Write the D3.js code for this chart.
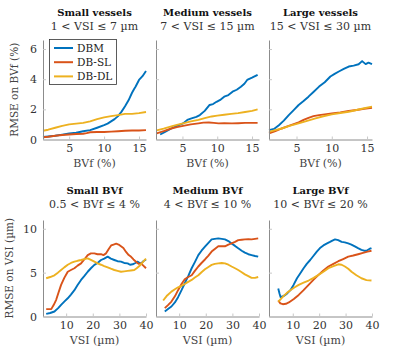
<!DOCTYPE html>
<html>
<head>
<meta charset="utf-8">
<script src="https://cdn.jsdelivr.net/npm/d3@7"></script>
<style>
  body { margin: 0; background: #fff; }
</style>
</head>
<body>
<svg id="chart" width="400" height="355"></svg>
<script>
// ------------------------------------------------------------------------ //
// DATA  (pairs are [x, RMSE])
// ------------------------------------------------------------------------ //

var methods = ["DBM", "DB-SL", "DB-DL"]

// Top row : RMSE on BVf (%) vs BVf (%)
var smallVesselsDBM = [[1.25,.17],[2,.2],[3,.25],[4,.32],[5,.4],[6,.45],[7,.55],[8,.62],[9,.78],[10,.95],[10.5,1.05],[11,1.2],[11.5,1.35],[12,1.55],[12.5,1.85],[13,2.2],[13.5,2.6],[14,3.1],[14.3,3.35],[14.5,3.5],[15,3.95],[15.5,4.2],[16,4.55]]
var smallVesselsSL  = [[1.25,.15],[2,.18],[3,.25],[4,.3],[5,.33],[6,.36],[7,.38],[7.5,.42],[8,.48],[9,.5],[10,.5],[11,.52],[12,.55],[13,.58],[14,.6],[15,.6],[16,.62]]
var smallVesselsDL  = [[1.25,.58],[2,.65],[3,.78],[4,.9],[5,1.0],[6,1.05],[7,1.1],[8,1.2],[9,1.35],[10,1.47],[11,1.55],[12,1.62],[13,1.7],[14,1.7],[15,1.75],[16,1.82]]

var mediumVesselsDBM = [[1.8,.33],[2.5,.5],[3.4,.73],[4.2,.9],[5.1,1.07],[5.7,1.3],[6.3,1.4],[7,1.5],[7.5,1.62],[8.2,1.9],[8.9,2.29],[9.4,2.35],[9.9,2.5],[10.5,2.65],[11,2.84],[11.6,2.95],[12.2,3.17],[12.8,3.3],[13.4,3.5],[13.9,3.7],[14.3,3.95],[15,4.1],[15.8,4.29]]
var mediumVesselsSL  = [[1.3,.4],[2.3,.55],[3.4,.73],[4.2,.82],[5.1,.9],[6.2,1.0],[7.3,1.07],[8,1.12],[8.8,1.13],[9.5,1.1],[10.2,1.07],[11,1.08],[12.1,1.07],[13,1.08],[14,1.1],[15,1.1],[15.8,1.1]]
var mediumVesselsDL  = [[1.3,.6],[2.3,.72],[3.4,.87],[4.2,.97],[5.1,1.07],[6.2,1.2],[7.3,1.3],[8.2,1.42],[9.2,1.53],[10,1.58],[11,1.64],[12,1.7],[13,1.75],[14,1.82],[15,1.9],[15.8,2.0]]

var largeVesselsDBM = [[1.1,.62],[1.8,.7],[2.5,.95],[3.2,1.25],[3.9,1.62],[4.6,1.95],[5.3,2.29],[6,2.55],[6.7,2.84],[7.4,3.15],[8.2,3.51],[9,3.8],[9.8,4.18],[10.4,4.35],[11,4.51],[11.7,4.68],[12.4,4.84],[13.1,4.9],[13.8,4.99],[14.3,5.2],[14.8,5.0],[15.2,5.1],[15.7,5.0]]
var largeVesselsSL  = [[1.1,.4],[2,.55],[2.9,.73],[4,.92],[5.3,1.13],[6,1.3],[6.7,1.44],[7.4,1.55],[8.2,1.62],[9,1.67],[10,1.73],[11.2,1.8],[12.4,1.89],[13.5,1.96],[14.6,2.04],[15.7,2.11]]
var largeVesselsDL  = [[1.1,.51],[2,.62],[2.9,.73],[4,.9],[5.3,1.07],[6.5,1.24],[7.7,1.4],[8.8,1.54],[10,1.67],[11.2,1.76],[12.4,1.84],[13.5,1.96],[14.6,2.07],[15.7,2.18]]

// Bottom row : RMSE on VSI (µm) vs VSI (µm)
var smallBvfDBM = [[2.5,.3],[4,.4],[5.6,.57],[7,.95],[8.1,1.33],[9.3,1.7],[10.6,2.08],[11.8,2.5],[13.1,3.0],[14.3,3.6],[15.6,4.17],[16.8,4.6],[18.1,5.1],[19.3,5.5],[20.6,5.88],[21.8,6.1],[23.1,6.44],[24.3,6.6],[25.6,6.82],[26.8,6.6],[28.1,6.44],[29.3,6.3],[30.6,6.25],[31.8,6.1],[33.1,6.06],[34,5.9],[35,5.95],[36,6.1],[36.9,6.25],[38,6.0],[39,6.3],[40,6.5]]
var smallBvfSL  = [[2.5,.84],[4.4,.84],[5.3,1.3],[6.25,1.9],[7.2,2.8],[8.1,3.6],[9.3,4.4],[10.6,5.1],[11.8,5.3],[13.1,5.5],[14.3,5.8],[15.6,6.06],[16.8,6.5],[18.1,7.0],[19.3,7.2],[20.6,7.2],[21.8,7.1],[23.1,7.1],[24,7.0],[25,7.2],[26,7.7],[26.9,8.1],[27.8,8.2],[28.8,8.3],[29.7,8.2],[30.6,8.0],[31.5,7.8],[32.5,7.36],[33.5,7.0],[34.4,6.8],[35.3,6.5],[36.25,6.25],[37.2,6.0],[38.1,6.06],[39,5.8],[40,5.5]]
var smallBvfDL  = [[2.5,4.36],[4,4.5],[5.6,4.7],[6.9,5.0],[8.1,5.3],[9.3,5.6],[10.6,5.9],[11.8,6.1],[13.1,6.25],[14.3,6.35],[15.6,6.44],[16.8,6.55],[18.1,6.63],[19.3,6.45],[20.6,6.25],[21.8,6.05],[23.1,5.9],[24.3,5.75],[25.6,5.6],[26.8,5.45],[28.1,5.3],[29.3,5.2],[30.6,5.1],[31.8,5.15],[33.1,5.2],[34.3,5.25],[35.6,5.3],[36.5,5.5],[37.5,5.75],[38.8,6.2],[40,6.6]]

var mediumBvfDBM = [[4.6,.57],[5.8,.85],[7.1,1.14],[8.4,1.6],[9.6,2.2],[10.9,3.0],[12.1,3.79],[13.4,4.6],[14.7,5.5],[15.9,6.2],[17.2,7.0],[18.4,7.5],[19.7,7.96],[21,8.4],[22.2,8.79],[23.4,8.85],[24.7,8.9],[26,8.85],[27.2,8.79],[28.5,8.6],[29.7,8.33],[31,8.05],[32.2,7.77],[33.5,7.5],[34.7,7.28],[36,7.1],[37.2,7.0],[38.5,6.9],[39.7,6.82]]
var mediumBvfSL  = [[4.6,.95],[5.8,1.3],[7.1,1.7],[8.4,2.3],[9.6,3.0],[10.9,3.7],[12.1,4.24],[13.4,4.5],[14.7,4.7],[15.9,5.2],[17.2,5.7],[18.4,6.1],[19.7,6.5],[21,6.95],[22.2,7.4],[23.4,7.7],[24.7,8.0],[26,8.0],[27.2,8.0],[28.5,8.2],[29.7,8.33],[31,8.5],[32.2,8.7],[33.5,8.75],[34.7,8.79],[36,8.8],[37.2,8.79],[38.5,8.85],[39.7,8.9]]
var mediumBvfDL  = [[4,1.82],[5.5,2.4],[7.1,2.84],[8.4,3.1],[9.6,3.33],[10.9,3.5],[12.1,3.71],[13.4,3.95],[14.7,4.17],[15.9,4.45],[17.2,4.7],[18.4,5.05],[19.7,5.38],[21,5.65],[22.2,5.88],[23.4,6.0],[24.7,6.06],[26,6.1],[27.2,6.06],[28.5,5.9],[29.7,5.7],[31,5.5],[32.2,5.3],[33.5,5.05],[34.7,4.8],[36,4.6],[37.2,4.4],[38.5,4.4],[39.7,4.5]]

var largeBvfDBM = [[4.5,3.2],[5,2.6],[5.4,2.2],[6.6,2.35],[7.8,2.6],[9.1,3.0],[10.3,3.6],[11.6,4.36],[12.8,4.9],[14.1,5.5],[15.3,6.0],[16.6,6.44],[17.8,6.9],[19.1,7.4],[20.3,7.8],[21.6,8.1],[22.8,8.3],[24.1,8.5],[25,8.65],[26,8.79],[27.2,8.7],[28.5,8.5],[29.7,8.45],[31,8.33],[32.2,8.2],[33.5,8.0],[34.7,7.8],[36,7.6],[37,7.5],[37.9,7.5],[39,7.7],[39.8,7.8]]
var largeBvfSL  = [[4.5,1.82],[5.3,1.5],[6.25,1.4],[7.4,1.45],[8.5,1.6],[10.4,2.0],[12.25,2.46],[14.1,3.0],[16,3.6],[17.9,4.2],[19.75,4.74],[21.6,5.25],[23.5,5.7],[25.4,6.0],[27.25,6.3],[29.1,6.55],[31,6.82],[32.9,6.95],[34.75,7.1],[36.6,7.25],[38.3,7.4],[39.8,7.5]]
var largeBvfDL  = [[4.5,1.7],[5.5,2.0],[6.6,2.35],[7.8,2.7],[9.1,3.0],[10.6,3.3],[12.25,3.6],[14.1,3.85],[16,4.1],[17.9,4.4],[19.75,4.74],[21.6,5.1],[23.5,5.5],[25.4,5.75],[27.25,5.95],[28.5,5.9],[29.75,5.7],[31,5.45],[32.25,5.1],[34.1,4.7],[36,4.36],[37.9,4.15],[39.8,4.1]]

// Titles and tick values
var topTitles = ["Small vessels", "Medium vessels", "Large vessels"]
var topSubtitles = ["1 < VSI ≤ 7 µm", "7 < VSI ≤ 15 µm", "15 < VSI ≤ 30 µm"]
var bottomTitles = ["Small BVf", "Medium BVf", "Large BVf"]
var bottomSubtitles = ["0.5 < BVf ≤ 4 %", "4 < BVf ≤ 10 %", "10 < BVf ≤ 20 %"]
var topXTicks = [5, 10, 15]
var topYTicks = [0, 2, 4, 6]
var bottomXTicks = [10, 20, 30, 40]
var bottomYTicks = [0, 5, 10]

var topSeries = [
  [smallVesselsDBM, smallVesselsSL, smallVesselsDL],
  [mediumVesselsDBM, mediumVesselsSL, mediumVesselsDL],
  [largeVesselsDBM, largeVesselsSL, largeVesselsDL]
]
var bottomSeries = [
  [smallBvfDBM, smallBvfSL, smallBvfDL],
  [mediumBvfDBM, mediumBvfSL, mediumBvfDL],
  [largeBvfDBM, largeBvfSL, largeBvfDL]
]

// ------------------------------------------------------------------------ //
// LAYOUT
// ------------------------------------------------------------------------ //

var FONT = "DejaVu Serif"

var color = d3.scaleOrdinal()
  .domain(methods)
  .range(["#0072BD", "#D95319", "#EDB120"])

var panelLeft = [43, 156, 269],
    panelWidth = 103

var rows = [
  { top: 40, bottom: 139.5, yDomain: [0, 6.6],
    xDomains: [[1.25, 16], [1.2, 16], [1.1, 15.7]],
    xTicks: topXTicks, yTicks: topYTicks, series: topSeries,
    titles: topTitles, subtitles: topSubtitles, titleY: 16,
    xLabel: "BVf (%)", yLabel: "RMSE on BVf (%)", yLabelX: 18 },
  { top: 220, bottom: 316.5, yDomain: [0, 11],
    xDomains: [[1.3, 40], [1.3, 40], [1, 40]],
    xTicks: bottomXTicks, yTicks: bottomYTicks, series: bottomSeries,
    titles: bottomTitles, subtitles: bottomSubtitles, titleY: 194,
    xLabel: "VSI (µm)", yLabel: "RMSE on VSI (µm)", yLabelX: 13 }
]

var svg = d3.select("#chart")

rows.forEach(function(row) {
  var y = d3.scaleLinear().domain(row.yDomain).range([row.bottom, row.top])

  for (var i = 0; i < 3; i++) {
    var x = d3.scaleLinear()
      .domain(row.xDomains[i])
      .range([panelLeft[i], panelLeft[i] + panelWidth])
    var g = svg.append("g")
    var cx = panelLeft[i] + panelWidth / 2

    // titles
    g.append("text")
      .attr("x", cx).attr("y", row.titleY)
      .attr("text-anchor", "middle")
      .attr("font-family", FONT)
      .style("font-size", "10px").style("font-weight", "bold")
      .style("fill", "#111")
      .text(row.titles[i])
    g.append("text")
      .attr("x", cx).attr("y", row.titleY + 14)
      .attr("text-anchor", "middle")
      .attr("font-family", FONT)
      .style("font-size", "11px").style("fill", "#333")
      .text(row.subtitles[i])

    // curves
    var line = d3.line()
      .x(function(d) { return x(d[0]) })
      .y(function(d) { return y(d[1]) })
    row.series[i].forEach(function(s, k) {
      g.append("path")
        .datum(s)
        .attr("d", line)
        .style("fill", "none")
        .style("stroke", color(methods[k]))
        .style("stroke-width", 1.9)
        .style("stroke-linejoin", "round")
    })

    // axes
    var xAxis = g.append("g")
      .attr("transform", "translate(0," + row.bottom + ")")
      .call(d3.axisBottom(x).tickValues(row.xTicks).tickSizeInner(-3).tickSizeOuter(0).tickPadding(5))
    var yAxis = g.append("g")
      .attr("transform", "translate(" + panelLeft[i] + ",0)")
      .call(d3.axisLeft(y).tickValues(row.yTicks).tickSizeInner(-3).tickSizeOuter(0).tickPadding(6)
        .tickFormat(i == 0 ? d3.format("d") : function() { return "" }))
    ;[xAxis, yAxis].forEach(function(a) {
      a.attr("font-family", FONT).attr("font-size", 11)
      a.select(".domain").style("stroke", "#8c8c8c").style("stroke-width", 1)
      a.selectAll(".tick line").style("stroke", "#c8c8c8")
      a.selectAll("text").style("fill", "#333")
    })

    // x label
    g.append("text")
      .attr("x", cx).attr("y", row.bottom + 27)
      .attr("text-anchor", "middle")
      .attr("font-family", FONT)
      .style("font-size", "11px").style("fill", "#444")
      .text(row.xLabel)
  }

  // y label
  svg.append("text")
    .attr("transform", "translate(" + row.yLabelX + "," + ((row.top + row.bottom) / 2) + ")rotate(-90)")
    .attr("text-anchor", "middle")
    .attr("font-family", FONT)
    .style("font-size", "10.5px").style("fill", "#444")
    .text(row.yLabel)
})

// ------------------------------------------------------------------------ //
// LEGEND
// ------------------------------------------------------------------------ //

var legend = svg.append("g")
legend.append("rect")
  .attr("x", 49.5).attr("y", 39.5)
  .attr("width", 67).attr("height", 45)
  .style("fill", "#fff").style("stroke", "#333").style("stroke-width", 0.8)
methods.forEach(function(m, k) {
  var ly = 48 + k * 14.2
  legend.append("line")
    .attr("x1", 54).attr("x2", 73).attr("y1", ly).attr("y2", ly)
    .style("stroke", color(m)).style("stroke-width", 2)
  legend.append("text")
    .attr("x", 77).attr("y", ly + 4)
    .attr("font-family", FONT)
    .style("font-size", "10.5px").style("fill", "#222")
    .text(m)
})
</script>
</body>
</html>
